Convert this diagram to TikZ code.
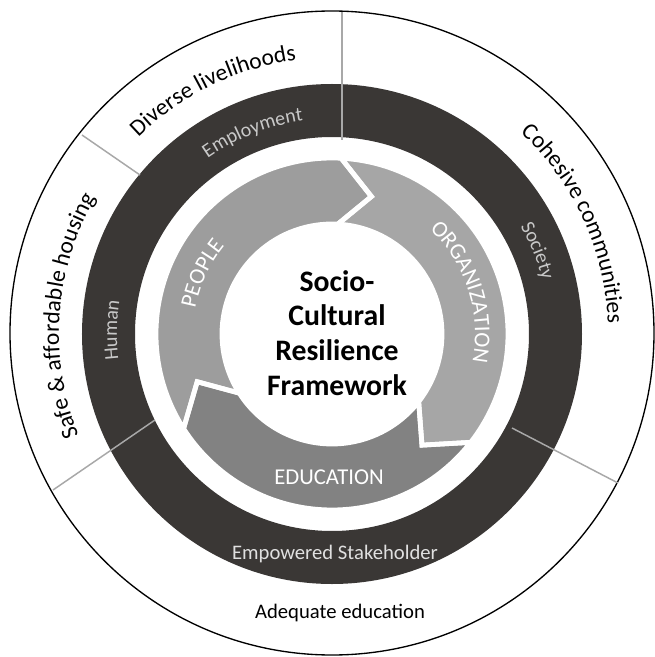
\documentclass[tikz,border=0pt]{standalone}
\usepackage{fontspec}
\setmainfont{Carlito}
\usetikzlibrary{decorations.text}
\definecolor{ringdark}{HTML}{3A3735}
\definecolor{peopledark}{HTML}{9D9D9D}
\definecolor{peoplelight}{HTML}{B1B1B1}
\definecolor{orgdark}{HTML}{A6A6A6}
\definecolor{orglight}{HTML}{BBBBBB}
\definecolor{edudark}{HTML}{828282}
\definecolor{edulight}{HTML}{979797}
\definecolor{divline}{HTML}{A8A8A8}
\definecolor{ringtext}{HTML}{C8C8C8}
\pgfdeclareradialshading{peopleshade}{\pgfpoint{0bp}{0bp}}{color(0bp)=(peopledark); color(31bp)=(peopledark); color(50bp)=(peoplelight)}
\pgfdeclareradialshading{orgshade}{\pgfpoint{0bp}{0bp}}{color(0bp)=(orgdark); color(31bp)=(orgdark); color(50bp)=(orglight)}
\pgfdeclareradialshading{edushade}{\pgfpoint{0bp}{0bp}}{color(0bp)=(edudark); color(31bp)=(edudark); color(50bp)=(edulight)}
\newcommand\myarctext[5]{%
  \path[decorate, decoration={text along path, text align=center, text={|#4|#5}}]
    (#2:#1) arc[start angle=#2, end angle=#3, radius=#1];}
\newcommand\outerfmt{\fontsize{17.6}{20}\selectfont\color{black}}
\newcommand\darkfmt{\fontsize{15}{18}\selectfont\color{ringtext}}
\newcommand\grayfmt{\fontsize{17}{20}\selectfont\color{white}}
\newcommand\peoplepath{(212.5:176) arc[start angle=212.5, end angle=87, radius=176]
  -- (74:143) -- (87:110) arc[start angle=87, end angle=212.5, radius=110]
  -- (199.5:143) -- cycle}
\newcommand\orgpath{(87:176) arc[start angle=87, end angle=-38, radius=176]
  -- (-51:143) -- (-38:110) arc[start angle=-38, end angle=87, radius=110]
  -- (74:143) -- cycle}
\newcommand\edupath{(-38:176) arc[start angle=-38, end angle=-147.5, radius=176]
  -- (-160.5:143) -- (-147.5:110) arc[start angle=-147.5, end angle=-38, radius=110]
  -- (-51:143) -- cycle}
\begin{document}
\begin{tikzpicture}[x=0.75pt,y=0.75pt,
  segment/.style={draw=white, line width=3.6pt, line join=miter},
  divider/.style={draw=divline, line width=1.1pt},
  outerlabel/.style={font=\fontsize{15.5}{18}\selectfont, text=black, inner sep=0pt, anchor=base},
  darklabel/.style={font=\fontsize{15.5}{18}\selectfont, text=ringtext, inner sep=0pt, anchor=base},
  graylabel/.style={font=\fontsize{17}{20}\selectfont, text=white, inner sep=0pt, anchor=base},
  title/.style={font=\fontsize{22.3}{26}\selectfont\bfseries, align=center, text=black, inner sep=0pt}]
\useasboundingbox (-332,-323) rectangle (322,334);
\fill[white] (-332,-323) rectangle (322,334);
% outer circle
\draw[black, line width=1pt] (0,1) circle (322);
% dark ring
\fill[ringdark, even odd rule] (0,0) circle (250) (0,0) circle (197);
% divider lines
\draw[divider] (10,322) -- (10,194);
\draw[divider] (180,-94) -- (286,-149);
\draw[divider] (-177,-86) -- (-279,-156);
\draw[divider] (-250,199) -- (-192,159);
% arrow segments
\begin{scope}\clip \peoplepath; \shade[shading=peopleshade] (0,0) circle (176);\end{scope}
\begin{scope}\clip \orgpath; \shade[shading=orgshade] (0,0) circle (176);\end{scope}
\begin{scope}\clip \edupath; \shade[shading=edushade] (0,0) circle (176);\end{scope}
\path[segment] \peoplepath;
\path[segment] \orgpath;
\path[segment] \edupath;
% curved labels, outer ring
\myarctext{276}{141}{91}{\outerfmt}{Diverse livelihoods}
\myarctext{276}{62}{-13}{\outerfmt}{Cohesive communities}
\myarctext{273}{216}{136}{\outerfmt}{Safe {\&} affordable housing}
% curved labels, dark ring
\myarctext{215}{135}{88}{\darkfmt}{Employment}
\myarctext{217}{50}{-6}{\darkfmt}{Society}
\myarctext{215}{205}{153}{\darkfmt}{Human}
% curved labels, arrows
\myarctext{139}{185}{125}{\grayfmt}{PEOPLE}
\myarctext{143}{55}{-19}{\grayfmt}{ORGANIZATION}
% straight labels
\node[graylabel] (edu) at (-3,-150) {EDUCATION};
\node[darklabel, text=white!88!black] (stake) at (3,-225) {Empowered Stakeholder};
\node[outerlabel] (adequate) at (8,-284) {Adequate education};
\node[title] (center) at (5,1) {Socio-\\Cultural\\Resilience\\Framework};
\end{tikzpicture}
\end{document}
